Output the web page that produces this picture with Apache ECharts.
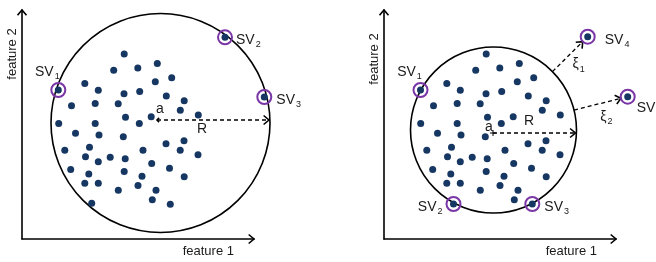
<!DOCTYPE html>
<html>
<head>
<meta charset="utf-8">
<script src="https://cdn.jsdelivr.net/npm/echarts@6/dist/echarts.min.js"></script>
<style>
  html, body { margin: 0; padding: 0; background: #fff; }
  #chart { width: 656px; height: 262px; }
</style>
</head>
<body>
<div id="chart"></div>
<script>
// all values in feature units, origin at the corner of the axes
const cluster = [
  [102.2,185.1],[135.3,175.5],[115.8,171],[91.7,168.7],[149.7,161.3],[133.3,157.3],
  [62.8,155.5],[76.3,148.8],[102,145.2],[117.7,147.5],[144.3,143],[162.2,138.2],
  [49.5,133.3],[73.2,135.5],[96.2,135.3],[158.3,128.7],[176.3,124],[103.5,121.7],
  [129.2,122.2],[117.3,115.5],[36.7,115.5],[73.2,115.5],[53.5,105.7],[77,104],
  [101.3,102.2],[144,95.3],[162,98.3],[121,88.8],[158.2,88.8],[176,84.2],
  [67.5,91.8],[42.8,88.8],[63.5,82.2],[88.2,81.8],[103.2,80.2],[76.3,77.3],
  [129.7,75.5],[48.7,69.5],[66.8,65],[102.2,67.5],[147.5,70.7],[120,62.8],
  [162.2,62.3],[62.8,55.7],[76.3,55.7],[116,53.5],[96.3,48.7],[134,48.7],[130.3,39.3]
];
const leftInner = [[69.7,35.7],[148.3,34.8]];

const leftSV = [[36.3,149],[203,201.7],[242.3,142]];
const leftSVNames = ['1','2','3'];
const rightSV = [[36.5,149],[69.5,35],[148.3,35],[203.7,202.3],[243.7,142.3]];
const rightSVNames = ['1','2','3','4','5'];

const leftCenter = [138.5,116];
const leftRadius = 109.5;
const leftA = [135,119];

const rightCenter = [109.5,109];
const rightRadius = 83;
const rightA = [109,106];

// slack variables go to SV4 and SV5
const slackNames = ['1','2'];

const axisMaxX = 232;
const axisMaxY = 229;

const dotColor = '#173763';
const ringColor = '#7a35a6';
const font = 'Liberation Sans, Arial, sans-serif';

const richSub = {
  m: { fontSize: 14, fontFamily: font, color: '#1a1a1a' },
  s: { fontSize: 9, fontFamily: font, color: '#1a1a1a', padding: [9, 0, 0, 1] }
};

function chevron(tip, ang, len, spread) {
  const a1 = ang + Math.PI - spread, a2 = ang + Math.PI + spread;
  return {
    type: 'polyline',
    shape: { points: [
      [tip[0] + len * Math.cos(a1), tip[1] + len * Math.sin(a1)],
      tip,
      [tip[0] + len * Math.cos(a2), tip[1] + len * Math.sin(a2)]
    ] },
    style: { stroke: '#000', lineWidth: 1.6, fill: null }
  };
}

function text(x, y, str, opts) {
  return {
    type: 'text', x: x, y: y, rotation: opts.rotation || 0,
    style: Object.assign({
      text: str, fontSize: 13, fontFamily: font, fill: '#1a1a1a',
      align: 'center', verticalAlign: 'middle', rich: richSub
    }, opts.style || {})
  };
}

function panel(cfg) {
  return function (params, api) {
    const kids = [];
    const c = api.coord(cfg.center);
    const r = api.size([cfg.radius, 0])[0];
    kids.push({ type: 'circle', shape: { cx: c[0], cy: c[1], r: r },
      style: { stroke: '#000', lineWidth: 1.6, fill: null } });

    // axis arrows and names
    const xt = api.coord([axisMaxX, 0]);
    const yt = api.coord([0, axisMaxY]);
    kids.push(chevron(xt, 0, 7, 0.7));
    kids.push(chevron(yt, -Math.PI / 2, 7, 0.7));
    kids.push(text(xt[0] - cfg.xNameGap, xt[1] + 12, 'feature 1', { style: { align: 'right' } }));
    kids.push(text(yt[0] - 10, yt[1] + cfg.yNameGap, 'feature 2', { rotation: Math.PI / 2 }));

    // radius R from centre a
    const a = api.coord(cfg.a);
    const dy = a[1] - c[1];
    const ex = c[0] + Math.sqrt(r * r - dy * dy) - 1;
    kids.push({ type: 'line', shape: { x1: a[0], y1: a[1], x2: ex, y2: a[1] },
      style: { stroke: '#000', lineWidth: 1.3, lineDash: [4, 3] } });
    kids.push(chevron([ex, a[1]], 0, 7, 0.7));
    if (cfg.plus) {
      kids.push({ type: 'line', shape: { x1: a[0] - 3, y1: a[1], x2: a[0] + 3, y2: a[1] }, style: { stroke: '#000', lineWidth: 1 } });
      kids.push({ type: 'line', shape: { x1: a[0], y1: a[1] - 3, x2: a[0], y2: a[1] + 3 }, style: { stroke: '#000', lineWidth: 1 } });
    } else {
      kids.push(chevron([a[0], a[1]], Math.PI, 3, 0.8));
    }
    kids.push(text(a[0] + cfg.aOff[0], a[1] + cfg.aOff[1], 'a', { style: { fontSize: 14 } }));
    kids.push(text(a[0] + cfg.rOff[0], a[1] + cfg.rOff[1], 'R', { style: { fontSize: 14 } }));

    // slack arrows
    (cfg.slack || []).forEach(function (s, i) {
      const p = api.coord(s.target);
      const ang = Math.atan2(p[1] - c[1], p[0] - c[0]);
      const ux = Math.cos(ang), uy = Math.sin(ang);
      const st = [c[0] + r * ux, c[1] + r * uy];
      const en = [p[0] - 7 * ux, p[1] - 7 * uy];
      kids.push({ type: 'line', shape: { x1: st[0], y1: st[1], x2: en[0], y2: en[1] },
        style: { stroke: '#000', lineWidth: 1.3, lineDash: [4, 3] } });
      kids.push(chevron(en, ang, 7, 0.7));
      const mx = (st[0] + en[0]) / 2, my = (st[1] + en[1]) / 2;
      kids.push(text(mx + s.off[0], my + s.off[1], '{m|ξ}{s|' + slackNames[i] + '}', {}));
    });
    return { type: 'group', children: kids };
  };
}

function svData(points, names, layout) {
  return points.map(function (p, i) {
    const l = layout[i];
    return { value: p, name: names[i], label: { position: l[0], offset: l[1], distance: l[2] } };
  });
}

const leftLayout = [['top', [-11, 1], 2], ['right', [0, 3], 3], ['right', [0, 3], 4]];
const rightLayout = [['top', [-11, 1], 2], ['left', [0, 3], 3], ['right', [0, 3], 4],
  ['right', [0, 3], 9], ['right', [0, 11], 1]];

function ringSeries(idx, data) {
  return {
    type: 'scatter', xAxisIndex: idx, yAxisIndex: idx, clip: false, z: 4,
    symbol: 'circle', symbolSize: 14,
    itemStyle: { color: 'rgba(0,0,0,0)', borderColor: ringColor, borderWidth: 2, opacity: 1 },
    label: { show: true, formatter: function (p) { return '{m|SV}{s|' + p.name + '}'; }, rich: richSub },
    emphasis: { disabled: true },
    data: data
  };
}

function dotSeries(idx, data) {
  return {
    type: 'scatter', xAxisIndex: idx, yAxisIndex: idx, clip: false, z: 3,
    symbolSize: 7, itemStyle: { color: dotColor, opacity: 1 }, emphasis: { disabled: true },
    data: data
  };
}

function axes(idx) {
  return {
    x: { type: 'value', gridIndex: idx, min: 0, max: axisMaxX,
      axisLine: { show: true, onZero: false, lineStyle: { color: '#000', width: 1.6 } },
      axisTick: { show: false }, axisLabel: { show: false }, splitLine: { show: false } },
    y: { type: 'value', gridIndex: idx, min: 0, max: axisMaxY,
      axisLine: { show: true, onZero: false, lineStyle: { color: '#000', width: 1.6 } },
      axisTick: { show: false }, axisLabel: { show: false }, splitLine: { show: false } }
  };
}

const chart = echarts.init(document.getElementById('chart'));
const a0 = axes(0), a1 = axes(1);
chart.setOption({
  animation: false,
  grid: [
    { left: 22, top: 10, width: 232, height: 229 },
    { left: 384, top: 10, width: 232, height: 229 }
  ],
  xAxis: [a0.x, a1.x],
  yAxis: [a0.y, a1.y],
  series: [
    {
      type: 'custom', xAxisIndex: 0, yAxisIndex: 0, clip: false, z: 2, silent: true,
      data: [[0, 0]],
      renderItem: panel({ center: leftCenter, radius: leftRadius, a: leftA,
        aOff: [3, -11], rOff: [45, 9], xNameGap: 20, yNameGap: 44 })
    },
    {
      type: 'custom', xAxisIndex: 1, yAxisIndex: 1, clip: false, z: 2, silent: true,
      data: [[0, 0]],
      renderItem: panel({ center: rightCenter, radius: rightRadius, a: rightA, plus: true,
        aOff: [-4, -6], rOff: [36, -12], xNameGap: 19, yNameGap: 49,
        slack: [{ target: rightSV[3], off: [11, 8] }, { target: rightSV[4], off: [9, 13] }] })
    },
    dotSeries(0, cluster.concat(leftInner, leftSV)),
    dotSeries(1, cluster.concat(rightSV)),
    ringSeries(0, svData(leftSV, leftSVNames, leftLayout)),
    ringSeries(1, svData(rightSV, rightSVNames, rightLayout))
  ]
});
</script>
</body>
</html>
